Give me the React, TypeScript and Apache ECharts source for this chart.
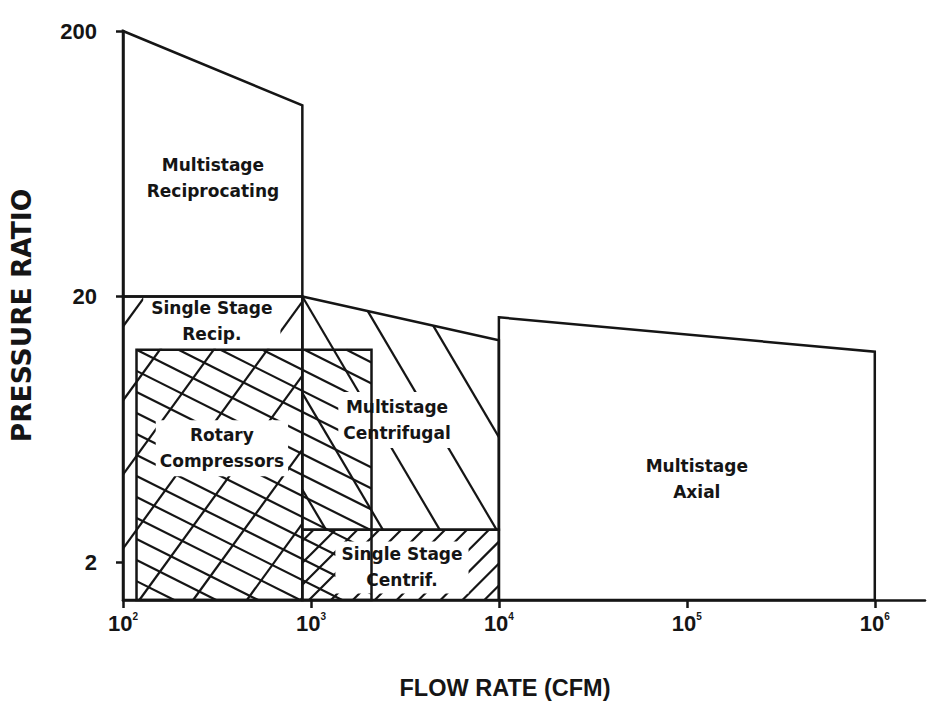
import React, { useEffect, useRef } from "react";
import * as echarts from "echarts";

type Pt = [number, number];

// ---- axis data ----
const xTickExponents = [2, 3, 4, 5, 6];
const yTickValues = [2, 20, 200];
const xMin = 100;
const xMax = 1.85e6;
const yMin = 1.44;
const yMax = 200;

// ---- regions (flow rate CFM, pressure ratio) ----
const multistageReciprocating: Pt[] = [[100, 200], [900, 105], [900, 20], [100, 20]];
const singleStageRecip: Pt[] = [[100, yMin], [900, yMin], [900, 20], [100, 20]];
const rotaryCompressors: Pt[] = [[118, yMin], [2100, yMin], [2100, 12.6], [118, 12.6]];
const multistageCentrifugal: Pt[] = [[900, 20], [10000, 13.7], [10000, 2.65], [900, 2.65]];
const singleStageCentrif: Pt[] = [[900, yMin], [10000, yMin], [10000, 2.65], [900, 2.65]];
const multistageAxial: Pt[] = [[10000, 16.7], [1e6, 12.4], [1e6, yMin], [10000, yMin]];

const regionOutlines: Pt[][] = [
  multistageReciprocating,
  singleStageRecip,
  rotaryCompressors,
  multistageCentrifugal,
  singleStageCentrif,
  multistageAxial,
];

// ---- region labels ----
const labelNames = [
  "Multistage\nReciprocating",
  "Single Stage\nRecip.",
  "Rotary\nCompressors",
  "Multistage\nCentrifugal",
  "Single Stage\nCentrif.",
  "Multistage\nAxial",
];
const labelX = [301, 297, 336, 2870, 3050, 113000];
const labelY = [55.8, 16.2, 5.37, 6.86, 1.91, 4.11];

// ---- hatch styles (angle in degrees on screen, spacing in px, phase anchor in data) ----
const hatchRegions: Pt[][] = [singleStageRecip, rotaryCompressors, multistageCentrifugal, singleStageCentrif];
const hatchAnchors: Pt[] = [[157, 12.6], [118, 12.6], [900, 20], [6400, yMin]];
const hatchStyle = [
  { angle: 54, spacing: 43.5 },
  { angle: -26.6, spacing: 18.8 },
  { angle: -59.5, spacing: 49 },
  { angle: 45, spacing: 15.5 },
];
const labelPadding = [
  [0, 0],
  [2, 8],
  [2, 4],
  [2, 5],
  [0, 6],
  [0, 0],
];

const INK = "#151515";
const L = (v: number) => Math.log10(v);

function cross(ax: number, ay: number, bx: number, by: number) {
  return ax * by - ay * bx;
}

function hatchSegments(poly: number[][], anchor: number[], angleDeg: number, spacing: number) {
  const th = (angleDeg * Math.PI) / 180;
  const dx = Math.cos(th);
  const dy = -Math.sin(th);
  const nx = -dy;
  const ny = dx;
  let pmin = Infinity;
  let pmax = -Infinity;
  for (const p of poly) {
    const pr = (p[0] - anchor[0]) * nx + (p[1] - anchor[1]) * ny;
    pmin = Math.min(pmin, pr);
    pmax = Math.max(pmax, pr);
  }
  const segs: number[][] = [];
  const k0 = Math.floor(pmin / spacing);
  const k1 = Math.ceil(pmax / spacing);
  for (let k = k0; k <= k1; k++) {
    const ox = anchor[0] + k * spacing * nx;
    const oy = anchor[1] + k * spacing * ny;
    const ts: number[] = [];
    for (let i = 0; i < poly.length; i++) {
      const a = poly[i];
      const b = poly[(i + 1) % poly.length];
      const ex = b[0] - a[0];
      const ey = b[1] - a[1];
      const den = cross(dx, dy, ex, ey);
      if (Math.abs(den) < 1e-9) continue;
      const wx = a[0] - ox;
      const wy = a[1] - oy;
      const t = cross(wx, wy, ex, ey) / den;
      const s = cross(wx, wy, dx, dy) / den;
      if (s >= -1e-9 && s <= 1 + 1e-9) ts.push(t);
    }
    if (ts.length >= 2) {
      const t0 = Math.min(...ts);
      const t1 = Math.max(...ts);
      if (t1 - t0 > 0.5) {
        segs.push([ox + t0 * dx, oy + t0 * dy, ox + t1 * dx, oy + t1 * dy]);
      }
    }
  }
  return segs;
}

export default function App() {
  const ref = useRef<HTMLDivElement>(null);

  useEffect(() => {
    if (!ref.current) return;
    const chart = echarts.init(ref.current, undefined, { renderer: "svg" });

    const option: any = {
      animation: false,
      backgroundColor: "#ffffff",
      grid: { left: 123, top: 31, width: 802, height: 569, containLabel: false },
      xAxis: {
        type: "value",
        min: L(xMin),
        max: L(xMax),
        name: "FLOW RATE (CFM)",
        nameLocation: "middle",
        nameGap: 76,
        nameTextStyle: {
          fontFamily: "Liberation Sans",
          fontWeight: "bold",
          fontSize: 23.5,
          color: INK,
          padding: [0, 38, 0, 0],
        },
        axisLine: { show: true, lineStyle: { color: INK, width: 2.5 } },
        axisTick: {
          show: true,
          customValues: xTickExponents,
          length: 8,
          lineStyle: { color: INK, width: 2.5 },
        },
        axisLabel: {
          customValues: xTickExponents,
          margin: 11,
          formatter: (v: number) => `{b|10}{s|${Math.round(v)}}`,
          rich: {
            b: { fontFamily: "Liberation Sans", fontWeight: "bold", fontSize: 22, color: INK, lineHeight: 24 },
            s: {
              fontFamily: "Liberation Sans",
              fontWeight: "bold",
              fontSize: 10,
              color: INK,
              lineHeight: 13,
              verticalAlign: "top",
              padding: [0, 0, 0, 0],
            },
          },
        },
        splitLine: { show: false },
      },
      yAxis: {
        type: "value",
        min: L(yMin),
        max: L(yMax),
        name: "PRESSURE RATIO",
        nameLocation: "middle",
        nameGap: 88,
        nameTextStyle: {
          fontFamily: "DejaVu Sans",
          fontWeight: "bold",
          fontSize: 26.5,
          color: INK,
        },
        axisLine: { show: true, lineStyle: { color: INK, width: 2.5 } },
        axisTick: {
          show: true,
          customValues: yTickValues.map(L),
          length: 7,
          lineStyle: { color: INK, width: 2.5 },
        },
        axisLabel: {
          customValues: yTickValues.map(L),
          margin: 26,
          fontFamily: "Liberation Sans",
          fontWeight: "bold",
          fontSize: 22,
          color: INK,
          formatter: (v: number) => String(Math.round(Math.pow(10, v))),
        },
        splitLine: { show: false },
      },
      series: [
        {
          type: "custom",
          name: "hatch",
          z: 2,
          silent: true,
          data: hatchRegions.map((r) => [L(r[0][0]), L(r[0][1])]),
          encode: { x: 0, y: 1 },
          renderItem: (params: any, api: any) => {
            const i = params.dataIndex;
            const poly = hatchRegions[i].map((p) => api.coord([L(p[0]), L(p[1])]));
            const anc = api.coord([L(hatchAnchors[i][0]), L(hatchAnchors[i][1])]);
            const segs = hatchSegments(poly, anc, hatchStyle[i].angle, hatchStyle[i].spacing);
            return {
              type: "group",
              children: segs.map((s) => ({
                type: "line",
                shape: { x1: s[0], y1: s[1], x2: s[2], y2: s[3] },
                style: { stroke: INK, lineWidth: 2.2, lineCap: "butt" },
              })),
            };
          },
        },
        {
          type: "custom",
          name: "labels",
          z: 3,
          silent: true,
          data: labelNames.map((_, i) => [L(labelX[i]), L(labelY[i])]),
          encode: { x: 0, y: 1 },
          renderItem: (params: any, api: any) => {
            const i = params.dataIndex;
            const c = api.coord([L(labelX[i]), L(labelY[i])]);
            return {
              type: "text",
              x: c[0],
              y: c[1],
              style: {
                text: labelNames[i],
                fill: INK,
                fontFamily: "DejaVu Sans",
                fontWeight: "bold",
                fontSize: 17,
                lineHeight: 26,
                align: "center",
                verticalAlign: "middle",
                backgroundColor: "#ffffff",
                padding: labelPadding[i],
              },
            };
          },
        },
        {
          type: "custom",
          name: "outlines",
          z: 4,
          silent: true,
          data: regionOutlines.map((r) => [L(r[0][0]), L(r[0][1])]),
          encode: { x: 0, y: 1 },
          renderItem: (params: any, api: any) => {
            const pts = regionOutlines[params.dataIndex].map((p) => api.coord([L(p[0]), L(p[1])]));
            return {
              type: "polygon",
              shape: { points: pts },
              style: { fill: "none", stroke: INK, lineWidth: 2.5, lineJoin: "miter" },
            };
          },
        },
      ],
    };

    chart.setOption(option);
    return () => chart.dispose();
  }, []);

  return (
    <div
      ref={ref}
      style={{ position: "absolute", left: 0, top: 0, width: 929, height: 715, background: "#fff" }}
    />
  );
}
